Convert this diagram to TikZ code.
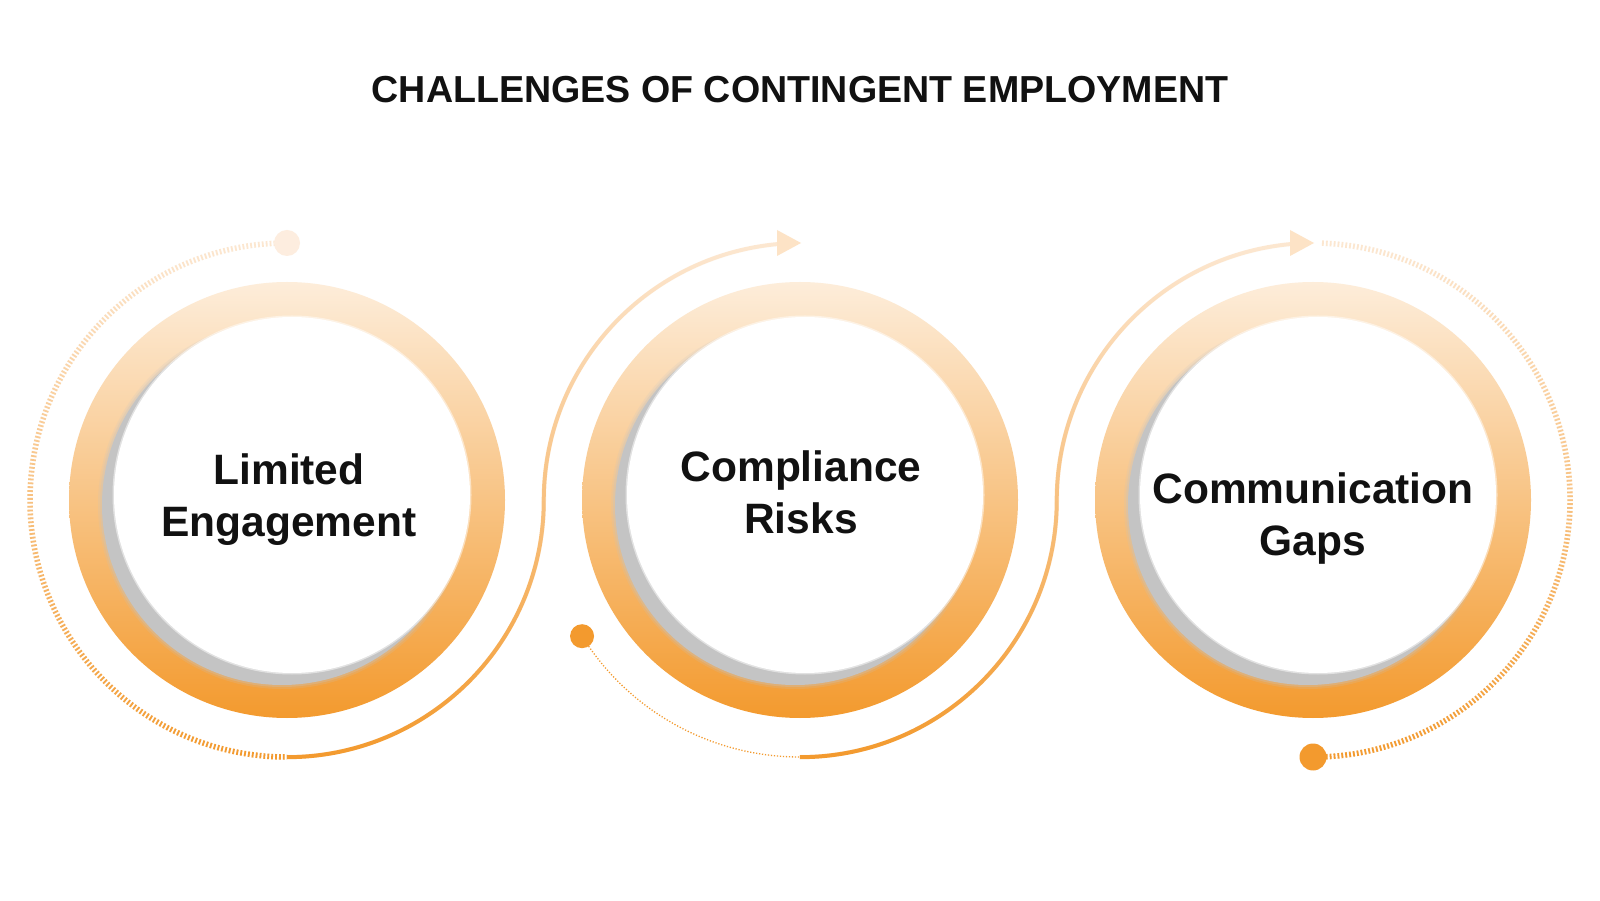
\documentclass[tikz,border=0pt]{standalone}
\usepackage{fontspec}
\setmainfont{Liberation Sans}
\usetikzlibrary{fadings,calc}
\definecolor{ringtop}{HTML}{FDEDDA}
\definecolor{ringbot}{HTML}{F39A2E}
\definecolor{lineor}{HTML}{F39A2E}
\definecolor{linelt}{HTML}{FDE8D2}
\definecolor{arrowlt}{HTML}{FDE3C6}
\definecolor{dotlt}{HTML}{FDEDDF}
\definecolor{shadowgray}{HTML}{C4C4C4}
\definecolor{txt}{HTML}{111111}
\tikzfading[name=fadeup, bottom color=transparent!0, top color=transparent!100]
\tikzset{
  ring/.style={circle, minimum size=436pt, inner sep=0pt, draw=none, top color=ringtop, bottom color=ringbot},
  ticks/.style={line width=5.5pt, dash pattern=on 1.8pt off 2.1pt},
  sline/.style={line width=4pt},
  fine/.style={line width=1.3pt, dash pattern=on 1.2pt off 1.8pt, draw=lineor},
  lbl/.style={font=\fontsize{42.5}{52}\selectfont\bfseries, text=txt, inner sep=0pt, anchor=base},
  title/.style={font=\fontsize{37.6}{45}\selectfont\bfseries, text=txt, inner sep=0pt, anchor=base},
  arrowhead/.style={fill=arrowlt, draw=none}
}
\begin{document}
\begin{tikzpicture}[x=1pt,y=1pt]
\fill[white] (0,0) rectangle (1600,900);
\useasboundingbox (0,0) rectangle (1600,900);

% centres and key points
\coordinate (c1) at (287,400);
\coordinate (c2) at (800,400);
\coordinate (c3) at (1313,400);
\coordinate (c1top) at (287,657);
\coordinate (c1bot) at (287,143);
\coordinate (c2bot) at (800,143);
\coordinate (c2dot) at ($(c2)+(212:257)$);
\coordinate (c3tick) at ($(c3)+(88:257)$);
\coordinate (c3bot) at (1313,143);

% title
\node[title] (ttl) at (800,797) {CHALLENGES OF CONTINGENT EMPLOYMENT};

% circle 1 : ticked arc on the left
\draw[ticks, draw=linelt] (c1top) arc[start angle=90, end angle=270, radius=257];
\draw[ticks, draw=lineor, path fading=fadeup] (c1top) arc[start angle=90, end angle=270, radius=257];
\fill[dotlt] (c1top) circle (13);

% S-curve 1 -> 2
\draw[sline, draw=linelt] (c1bot) arc[start angle=270, end angle=360, radius=257] arc[start angle=180, end angle=95, radius=257];
\draw[sline, draw=lineor, path fading=fadeup] (c1bot) arc[start angle=270, end angle=360, radius=257] arc[start angle=180, end angle=95, radius=257];
\fill[arrowhead] (801,657) -- (777,670) -- (777,644) -- cycle;

% circle 2 : fine dotted arc and dot
\draw[fine] (c2dot) arc[start angle=212, end angle=270, radius=257];
\fill[lineor] (c2dot) circle (12);

% S-curve 2 -> 3
\draw[sline, draw=linelt] (c2bot) arc[start angle=270, end angle=360, radius=257] arc[start angle=180, end angle=95, radius=257];
\draw[sline, draw=lineor, path fading=fadeup] (c2bot) arc[start angle=270, end angle=360, radius=257] arc[start angle=180, end angle=95, radius=257];
\fill[arrowhead] (1314,657) -- (1290,670) -- (1290,644) -- cycle;

% circle 3 : ticked arc on the right
\draw[ticks, draw=linelt] (c3tick) arc[start angle=88, end angle=-90, radius=257];
\draw[ticks, draw=lineor, path fading=fadeup] (c3tick) arc[start angle=88, end angle=-90, radius=257];
\fill[lineor] (c3bot) circle (13.5);

% rings
\foreach \cx/\n in {287/1, 800/2, 1313/3} {
  \node[ring] (ring\n) at (\cx,400) {};
  \fill[shadowgray, opacity=.18] (\cx-5,395) circle (184);
  \fill[shadowgray, opacity=.3] (\cx-5,395) circle (182);
  \fill[shadowgray] (\cx-5,395) circle (180);
  \fill[white, opacity=.5] (\cx+5,405) circle (179.5);
  \fill[white] (\cx+5,405) circle (178);
}

% labels
\node[lbl] (l1a) at (289,415) {Limited};
\node[lbl] (l1b) at (289,363) {Engagement};
\node[lbl] (l2a) at (801,418) {Compliance};
\node[lbl] (l2b) at (801,366) {Risks};
\node[lbl] (l3a) at (1313,396) {Communication};
\node[lbl] (l3b) at (1313,344) {Gaps};
\end{tikzpicture}
\end{document}
